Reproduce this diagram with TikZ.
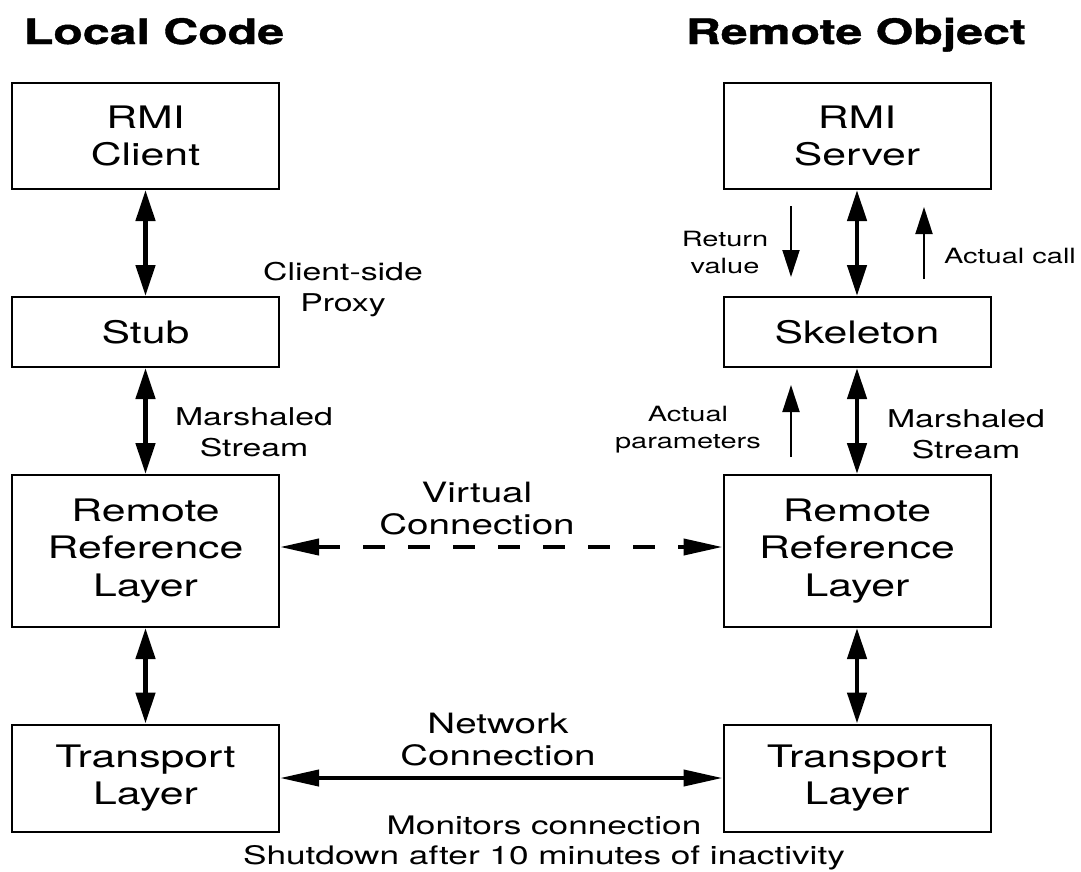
\documentclass[tikz,border=0pt]{standalone}
\usepackage{fontspec}
\setmainfont{TeX Gyre Heros}[FakeStretch=1.38, BoldFeatures={FakeBold=1.2}]
\usepackage{tikz}
\usetikzlibrary{positioning, arrows.meta}

\tikzset{
	layer/.style={draw, line width=2pt, inner sep=0pt, minimum width=267pt, align=center, font=\fontsize{31}{37.5}\selectfont},
	heading/.style={font=\bfseries\fontsize{35}{40}\selectfont},
	connlabel/.style={align=center, font=\fontsize{28}{32}\selectfont},
	sidelabel/.style={align=center, font=\fontsize{24.5}{31}\selectfont},
	smalllabel/.style={align=center, font=\fontsize{21}{27}\selectfont},
	vlink/.style={line width=4.5pt, arrows={Triangle[length=31pt,width=19pt]-Triangle[length=31pt,width=19pt]}},
	hlink/.style={line width=4pt, arrows={Triangle[length=39pt,width=16pt]-Triangle[length=39pt,width=16pt]}},
	flow/.style={line width=2pt, arrows={-Triangle[length=27pt,width=17pt]}}
}

\begin{document}
\begin{tikzpicture}[x=1pt, y=-1pt]
		\useasboundingbox (0,0) rectangle (1081,871);
		
		% Client side
		\node[layer, minimum height=106pt] (client) at (145.5,136) {RMI\\Client};
		\node[layer, minimum height=70pt] (stub) at (145.5,332) {Stub};
		\node[layer, minimum height=152pt] (lref) at (145.5,551) {Remote\\Reference\\Layer};
		\node[layer, minimum height=107pt] (ltrans) at (145.5,778) {Transport\\Layer};
		
		% Server side
		\node[layer, minimum height=106pt] (server) at (857,136) {RMI\\Server};
		\node[layer, minimum height=70pt] (skel) at (857,332) {Skeleton};
		\node[layer, minimum height=152pt] (rref) at (857,551) {Remote\\Reference\\Layer};
		\node[layer, minimum height=107pt] (rtrans) at (857,778) {Transport\\Layer};
		
		% Column headers
		\node[heading, anchor=base] (localhead) at (154,44) {Local Code};
		\node[heading, anchor=base] (remotehead) at (856,44) {Remote Object};
		
		% Vertical links
		\draw[vlink] (client) -- (stub);
		\draw[vlink] (stub) -- (lref);
		\draw[vlink] (lref) -- (ltrans);
		\draw[vlink] (server) -- (skel);
		\draw[vlink] (skel) -- (rref);
		\draw[vlink] (rref) -- (rtrans);
		
		% Connections between the two sides
		\draw[hlink, dash pattern=on 22pt off 23pt] ([yshift=4pt]lref.east) -- ([yshift=4pt]rref.west);
		\draw[hlink] (ltrans) -- (rtrans);
		
		% Call flow at the skeleton
		\coordinate (ret1) at (791,206);
		\coordinate (ret2) at (791,277);
		\coordinate (call1) at (924,279);
		\coordinate (call2) at (924,207);
		\coordinate (par1) at (791,457);
		\coordinate (par2) at (791,385);
		\draw[flow] (ret1) -- (ret2);
		\draw[flow] (call1) -- (call2);
		\draw[flow] (par1) -- (par2);
		
		% Labels
		\node[sidelabel] (proxy) at (343,290) {Client-side\\Proxy};
		\node[sidelabel] (lstream) at (254,432) {Marshaled\\Stream};
		\node[sidelabel] (rstream) at (966,434) {Marshaled\\Stream};
		\node[smalllabel] (retlabel) at (725,252) {Return\\value};
		\node[smalllabel] (calllabel) at (1010,256) {Actual call};
		\node[smalllabel] (parlabel) at (688,430) {Actual\\parameters};
		\node[connlabel] (virtual) at (477,509) {Virtual\\Connection};
		\node[connlabel] (network) at (498,740) {Network\\Connection};
		\node[sidelabel, font=\fontsize{25.5}{30}\selectfont] (monitor) at (544,843) {Monitors connection\\Shutdown after 10 minutes of inactivity};
	\end{tikzpicture}
\end{document}
